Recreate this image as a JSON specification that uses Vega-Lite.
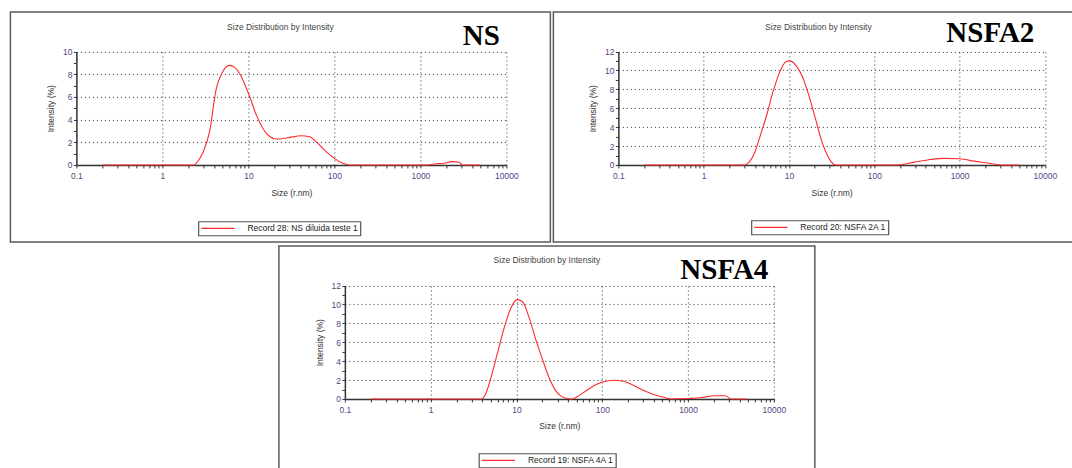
{
  "$schema": "https://vega.github.io/schema/vega-lite/v6.json",
  "padding": {"left": 9.25, "top": 10.95, "right": 0, "bottom": 0},
  "background": "white",
  "datasets": {
    "ns": [
      {"size": 0.2, "intensity": 0, "record": "Record 28: NS diluida teste 1"},
      {"size": 1, "intensity": 0, "record": "Record 28: NS diluida teste 1"},
      {"size": 2.33, "intensity": 0, "record": "Record 28: NS diluida teste 1"},
      {"size": 2.6, "intensity": 0.35, "record": "Record 28: NS diluida teste 1"},
      {"size": 2.99, "intensity": 1.17, "record": "Record 28: NS diluida teste 1"},
      {"size": 3.57, "intensity": 3.07, "record": "Record 28: NS diluida teste 1"},
      {"size": 4.19, "intensity": 6.58, "record": "Record 28: NS diluida teste 1"},
      {"size": 5.01, "intensity": 8.18, "record": "Record 28: NS diluida teste 1"},
      {"size": 5.97, "intensity": 8.77, "record": "Record 28: NS diluida teste 1"},
      {"size": 6.95, "intensity": 8.6, "record": "Record 28: NS diluida teste 1"},
      {"size": 8.31, "intensity": 7.75, "record": "Record 28: NS diluida teste 1"},
      {"size": 10.2, "intensity": 6.14, "record": "Record 28: NS diluida teste 1"},
      {"size": 12.4, "intensity": 4.39, "record": "Record 28: NS diluida teste 1"},
      {"size": 16.2, "intensity": 2.78, "record": "Record 28: NS diluida teste 1"},
      {"size": 21.2, "intensity": 2.28, "record": "Record 28: NS diluida teste 1"},
      {"size": 28.9, "intensity": 2.4, "record": "Record 28: NS diluida teste 1"},
      {"size": 41.2, "intensity": 2.57, "record": "Record 28: NS diluida teste 1"},
      {"size": 51.5, "intensity": 2.48, "record": "Record 28: NS diluida teste 1"},
      {"size": 64.3, "intensity": 1.9, "record": "Record 28: NS diluida teste 1"},
      {"size": 80.3, "intensity": 1.17, "record": "Record 28: NS diluida teste 1"},
      {"size": 100, "intensity": 0.58, "record": "Record 28: NS diluida teste 1"},
      {"size": 125, "intensity": 0.15, "record": "Record 28: NS diluida teste 1"},
      {"size": 150, "intensity": 0, "record": "Record 28: NS diluida teste 1"},
      {"size": 1200, "intensity": 0, "record": "Record 28: NS diluida teste 1"},
      {"size": 1510, "intensity": 0.1, "record": "Record 28: NS diluida teste 1"},
      {"size": 1890, "intensity": 0.15, "record": "Record 28: NS diluida teste 1"},
      {"size": 2360, "intensity": 0.29, "record": "Record 28: NS diluida teste 1"},
      {"size": 2820, "intensity": 0.23, "record": "Record 28: NS diluida teste 1"},
      {"size": 3090, "intensity": 0, "record": "Record 28: NS diluida teste 1"},
      {"size": 5000, "intensity": 0, "record": "Record 28: NS diluida teste 1"}
    ],
    "nsfa2": [
      {"size": 0.2, "intensity": 0, "record": "Record 20: NSFA 2A 1"},
      {"size": 1, "intensity": 0, "record": "Record 20: NSFA 2A 1"},
      {"size": 2.99, "intensity": 0, "record": "Record 20: NSFA 2A 1"},
      {"size": 3.41, "intensity": 0.3, "record": "Record 20: NSFA 2A 1"},
      {"size": 3.91, "intensity": 1.19, "record": "Record 20: NSFA 2A 1"},
      {"size": 4.69, "intensity": 3.31, "record": "Record 20: NSFA 2A 1"},
      {"size": 5.61, "intensity": 5.6, "record": "Record 20: NSFA 2A 1"},
      {"size": 6.42, "intensity": 7.56, "record": "Record 20: NSFA 2A 1"},
      {"size": 7.68, "intensity": 9.68, "record": "Record 20: NSFA 2A 1"},
      {"size": 9.2, "intensity": 10.9, "record": "Record 20: NSFA 2A 1"},
      {"size": 10.2, "intensity": 11.0, "record": "Record 20: NSFA 2A 1"},
      {"size": 12.0, "intensity": 10.56, "record": "Record 20: NSFA 2A 1"},
      {"size": 14.4, "intensity": 9.32, "record": "Record 20: NSFA 2A 1"},
      {"size": 17.3, "intensity": 7.2, "record": "Record 20: NSFA 2A 1"},
      {"size": 20.7, "intensity": 4.72, "record": "Record 20: NSFA 2A 1"},
      {"size": 23.7, "intensity": 2.78, "record": "Record 20: NSFA 2A 1"},
      {"size": 27.1, "intensity": 1.36, "record": "Record 20: NSFA 2A 1"},
      {"size": 30.9, "intensity": 0.4, "record": "Record 20: NSFA 2A 1"},
      {"size": 35.4, "intensity": 0, "record": "Record 20: NSFA 2A 1"},
      {"size": 187, "intensity": 0, "record": "Record 20: NSFA 2A 1"},
      {"size": 295, "intensity": 0.3, "record": "Record 20: NSFA 2A 1"},
      {"size": 461, "intensity": 0.58, "record": "Record 20: NSFA 2A 1"},
      {"size": 660, "intensity": 0.69, "record": "Record 20: NSFA 2A 1"},
      {"size": 990, "intensity": 0.66, "record": "Record 20: NSFA 2A 1"},
      {"size": 1480, "intensity": 0.4, "record": "Record 20: NSFA 2A 1"},
      {"size": 2130, "intensity": 0.2, "record": "Record 20: NSFA 2A 1"},
      {"size": 3030, "intensity": 0, "record": "Record 20: NSFA 2A 1"},
      {"size": 5000, "intensity": 0, "record": "Record 20: NSFA 2A 1"}
    ],
    "nsfa4": [
      {"size": 0.2, "intensity": 0, "record": "Record 19: NSFA 4A 1"},
      {"size": 1, "intensity": 0, "record": "Record 19: NSFA 4A 1"},
      {"size": 3.89, "intensity": 0, "record": "Record 19: NSFA 4A 1"},
      {"size": 4.37, "intensity": 0.53, "record": "Record 19: NSFA 4A 1"},
      {"size": 4.99, "intensity": 2.1, "record": "Record 19: NSFA 4A 1"},
      {"size": 5.97, "intensity": 4.77, "record": "Record 19: NSFA 4A 1"},
      {"size": 7.13, "intensity": 7.4, "record": "Record 19: NSFA 4A 1"},
      {"size": 8.53, "intensity": 9.53, "record": "Record 19: NSFA 4A 1"},
      {"size": 10.2, "intensity": 10.5, "record": "Record 19: NSFA 4A 1"},
      {"size": 11.7, "intensity": 10.3, "record": "Record 19: NSFA 4A 1"},
      {"size": 14, "intensity": 8.65, "record": "Record 19: NSFA 4A 1"},
      {"size": 16.7, "intensity": 6.35, "record": "Record 19: NSFA 4A 1"},
      {"size": 20, "intensity": 4.24, "record": "Record 19: NSFA 4A 1"},
      {"size": 23.9, "intensity": 2.29, "record": "Record 19: NSFA 4A 1"},
      {"size": 28.6, "intensity": 0.88, "record": "Record 19: NSFA 4A 1"},
      {"size": 33, "intensity": 0.3, "record": "Record 19: NSFA 4A 1"},
      {"size": 37.3, "intensity": 0.1, "record": "Record 19: NSFA 4A 1"},
      {"size": 44.7, "intensity": 0, "record": "Record 19: NSFA 4A 1"},
      {"size": 53.4, "intensity": 0.35, "record": "Record 19: NSFA 4A 1"},
      {"size": 66.8, "intensity": 0.95, "record": "Record 19: NSFA 4A 1"},
      {"size": 87.4, "intensity": 1.59, "record": "Record 19: NSFA 4A 1"},
      {"size": 110, "intensity": 1.87, "record": "Record 19: NSFA 4A 1"},
      {"size": 136, "intensity": 1.97, "record": "Record 19: NSFA 4A 1"},
      {"size": 171, "intensity": 1.9, "record": "Record 19: NSFA 4A 1"},
      {"size": 214, "intensity": 1.59, "record": "Record 19: NSFA 4A 1"},
      {"size": 279, "intensity": 1.06, "record": "Record 19: NSFA 4A 1"},
      {"size": 383, "intensity": 0.53, "record": "Record 19: NSFA 4A 1"},
      {"size": 523, "intensity": 0.17, "record": "Record 19: NSFA 4A 1"},
      {"size": 625, "intensity": 0, "record": "Record 19: NSFA 4A 1"},
      {"size": 1020, "intensity": 0.05, "record": "Record 19: NSFA 4A 1"},
      {"size": 1400, "intensity": 0.12, "record": "Record 19: NSFA 4A 1"},
      {"size": 2000, "intensity": 0.33, "record": "Record 19: NSFA 4A 1"},
      {"size": 2730, "intensity": 0.33, "record": "Record 19: NSFA 4A 1"},
      {"size": 3160, "intensity": 0, "record": "Record 19: NSFA 4A 1"},
      {"size": 5000, "intensity": 0, "record": "Record 19: NSFA 4A 1"}
    ]
  },
  "vconcat": [
    {
      "hconcat": [
        {
          "width": 540,
          "height": 230,
          "data": {"name": "ns"},
          "title": {"text": "Size Distribution by Intensity", "anchor": "middle", "frame": "group", "offset": -26.5, "baseline": "alphabetic", "fontSize": 8.5, "fontWeight": "normal", "color": "#444", "font": "Liberation Sans"},
          "layer": [
            {
              "mark": {"type": "line", "interpolate": "monotone", "strokeWidth": 1.1},
              "encoding": {
                "x": {"field": "size", "type": "quantitative",
                  "scale": {"type": "log", "domain": [0.1, 10000], "range": [66, 496], "nice": false},
                  "axis": {"orient": "bottom", "offset": -77, "values": [0.1,0.2,0.3,0.4,0.5,0.6,0.7,0.8,0.9,1,2,3,4,5,6,7,8,9,10,20,30,40,50,60,70,80,90,100,200,300,400,500,600,700,800,900,1000,2000,3000,4000,5000,6000,7000,8000,9000,10000], "format": "~g", "labelExpr": "indexof([0.1,1,10,100,1000,10000], datum.value) >= 0 ? datum.label : ''", "labelFlush": false, "labelOverlap": false, "labelPadding": 4, "tickSize": 3, "grid": false, "title": "Size (r.nm)", "titlePadding": 8}},
                "y": {"field": "intensity", "type": "quantitative",
                  "scale": {"domain": [0, 10], "range": [153, 39.5], "nice": false, "zero": false},
                  "axis": {"orient": "left", "offset": -66, "values": [0,1,2,3,4,5,6,7,8,9,10], "labelExpr": "datum.value % 2 == 0 ? datum.label : ''", "labelFlush": false, "labelOverlap": false, "labelPadding": 1.5, "tickSize": 3, "grid": true, "gridOpacity": {"condition": {"test": "datum.value % 2 == 0", "value": 1}, "value": 0}, "title": "Intensity (%)", "titlePadding": 6.5}},
                "color": {"field": "record", "type": "nominal", "scale": {"range": ["#ff2a2a"]},
                  "legend": {"title": null, "orient": "none", "legendX": 188, "legendY": 209.5, "symbolType": "stroke", "symbolSize": 1089, "symbolStrokeWidth": 1.2, "clipHeight": 10, "labelFont": "Liberation Sans", "labelFontSize": 8.5, "labelColor": "#222", "labelOffset": 12, "padding": 2, "strokeColor": "#555", "fillColor": "#ffffff"}}
              }
            },
            {
              "mark": {"type": "point", "opacity": 0},
              "encoding": {
                "x": {"field": "size", "type": "quantitative",
                  "scale": {"type": "log", "domain": [0.1, 10000], "range": [66, 496], "nice": false},
                  "axis": {"orient": "top", "offset": -39.5, "values": [1, 10, 100, 1000, 10000], "grid": true, "labels": false, "ticks": false, "domain": false, "title": "NS", "titleX": 489, "titleY": -6.5, "titleAlign": "right", "titleBaseline": "alphabetic", "titleAngle": 0, "titleFont": "Liberation Serif", "titleFontSize": 29, "titleFontWeight": "bold", "titleColor": "#000"}},
                "y": {"field": "intensity", "type": "quantitative",
                  "scale": {"domain": [0, 10], "range": [153, 39.5], "nice": false, "zero": false},
                  "axis": {"orient": "left", "offset": -66, "values": [0,1,2,3,4,5,6,7,8,9,10], "labelExpr": "datum.value % 2 == 0 ? datum.label : ''", "labelFlush": false, "labelOverlap": false, "labelPadding": 1.5, "tickSize": 3, "grid": true, "gridOpacity": {"condition": {"test": "datum.value % 2 == 0", "value": 1}, "value": 0}, "title": "Intensity (%)", "titlePadding": 6.5}}
              }
            }
          ],
          "resolve": {"axis": {"x": "independent"}}
        },
        {
          "width": 530,
          "height": 230,
          "data": {"name": "nsfa2"},
          "title": {"text": "Size Distribution by Intensity", "anchor": "middle", "frame": "group", "offset": -26.5, "baseline": "alphabetic", "fontSize": 8.5, "fontWeight": "normal", "color": "#444", "font": "Liberation Sans"},
          "layer": [
            {
              "mark": {"type": "line", "interpolate": "monotone", "strokeWidth": 1.1},
              "encoding": {
                "x": {"field": "size", "type": "quantitative",
                  "scale": {"type": "log", "domain": [0.1, 10000], "range": [65, 491.5], "nice": false},
                  "axis": {"orient": "bottom", "offset": -77, "values": [0.1,0.2,0.3,0.4,0.5,0.6,0.7,0.8,0.9,1,2,3,4,5,6,7,8,9,10,20,30,40,50,60,70,80,90,100,200,300,400,500,600,700,800,900,1000,2000,3000,4000,5000,6000,7000,8000,9000,10000], "format": "~g", "labelExpr": "indexof([0.1,1,10,100,1000,10000], datum.value) >= 0 ? datum.label : ''", "labelFlush": false, "labelOverlap": false, "labelPadding": 4, "tickSize": 3, "grid": false, "title": "Size (r.nm)", "titlePadding": 8}},
                "y": {"field": "intensity", "type": "quantitative",
                  "scale": {"domain": [0, 12], "range": [153, 39.5], "nice": false, "zero": false},
                  "axis": {"orient": "left", "offset": -65, "values": [0,1,2,3,4,5,6,7,8,9,10,11,12], "labelExpr": "datum.value % 2 == 0 ? datum.label : ''", "labelFlush": false, "labelOverlap": false, "labelPadding": 1.5, "tickSize": 3, "grid": true, "gridOpacity": {"condition": {"test": "datum.value % 2 == 0", "value": 1}, "value": 0}, "title": "Intensity (%)", "titlePadding": 6.5}},
                "color": {"field": "record", "type": "nominal", "scale": {"range": ["#ff2a2a"]},
                  "legend": {"title": null, "orient": "none", "legendX": 198, "legendY": 208.5, "symbolType": "stroke", "symbolSize": 1089, "symbolStrokeWidth": 1.2, "clipHeight": 10, "labelFont": "Liberation Sans", "labelFontSize": 8.5, "labelColor": "#222", "labelOffset": 12, "padding": 2, "strokeColor": "#555", "fillColor": "#ffffff"}}
              }
            },
            {
              "mark": {"type": "point", "opacity": 0},
              "encoding": {
                "x": {"field": "size", "type": "quantitative",
                  "scale": {"type": "log", "domain": [0.1, 10000], "range": [65, 491.5], "nice": false},
                  "axis": {"orient": "top", "offset": -39.5, "values": [1, 10, 100, 1000, 10000], "grid": true, "labels": false, "ticks": false, "domain": false, "title": "NSFA2", "titleX": 480.5, "titleY": -9.5, "titleAlign": "right", "titleBaseline": "alphabetic", "titleAngle": 0, "titleFont": "Liberation Serif", "titleFontSize": 29, "titleFontWeight": "bold", "titleColor": "#000"}},
                "y": {"field": "intensity", "type": "quantitative",
                  "scale": {"domain": [0, 12], "range": [153, 39.5], "nice": false, "zero": false},
                  "axis": {"orient": "left", "offset": -65, "values": [0,1,2,3,4,5,6,7,8,9,10,11,12], "labelExpr": "datum.value % 2 == 0 ? datum.label : ''", "labelFlush": false, "labelOverlap": false, "labelPadding": 1.5, "tickSize": 3, "grid": true, "gridOpacity": {"condition": {"test": "datum.value % 2 == 0", "value": 1}, "value": 0}, "title": "Intensity (%)", "titlePadding": 6.5}}
              }
            }
          ],
          "resolve": {"axis": {"x": "independent"}}
        }
      ],
      "spacing": 1,
      "resolve": {"scale": {"color": "independent"}, "legend": {"color": "independent"}}
    },
    {
      "width": 536,
      "height": 230,
      "data": {"name": "nsfa4"},
      "title": {"text": "Size Distribution by Intensity", "anchor": "middle", "frame": "group", "offset": -26, "baseline": "alphabetic", "fontSize": 8.5, "fontWeight": "normal", "color": "#444", "font": "Liberation Sans"},
      "layer": [
        {
          "mark": {"type": "line", "interpolate": "monotone", "strokeWidth": 1.1},
          "encoding": {
            "x": {"field": "size", "type": "quantitative",
              "scale": {"type": "log", "domain": [0.1, 10000], "range": [66, 495], "nice": false},
              "axis": {"orient": "bottom", "offset": -77, "values": [0.1,0.2,0.3,0.4,0.5,0.6,0.7,0.8,0.9,1,2,3,4,5,6,7,8,9,10,20,30,40,50,60,70,80,90,100,200,300,400,500,600,700,800,900,1000,2000,3000,4000,5000,6000,7000,8000,9000,10000], "format": "~g", "labelExpr": "indexof([0.1,1,10,100,1000,10000], datum.value) >= 0 ? datum.label : ''", "labelFlush": false, "labelOverlap": false, "labelPadding": 4, "tickSize": 3, "grid": false, "title": "Size (r.nm)", "titlePadding": 7}},
            "y": {"field": "intensity", "type": "quantitative",
              "scale": {"domain": [0, 12], "range": [153, 39.5], "nice": false, "zero": false},
              "axis": {"orient": "left", "offset": -66, "values": [0,1,2,3,4,5,6,7,8,9,10,11,12], "labelExpr": "datum.value % 2 == 0 ? datum.label : ''", "labelFlush": false, "labelOverlap": false, "labelPadding": 1.5, "tickSize": 3, "grid": true, "gridOpacity": {"condition": {"test": "datum.value % 2 == 0", "value": 1}, "value": 0}, "title": "Intensity (%)", "titlePadding": 6.5}},
            "color": {"field": "record", "type": "nominal", "scale": {"range": ["#ff2a2a"]},
              "legend": {"title": null, "orient": "none", "legendX": 200, "legendY": 207.5, "symbolType": "stroke", "symbolSize": 1089, "symbolStrokeWidth": 1.2, "clipHeight": 10, "labelFont": "Liberation Sans", "labelFontSize": 8.5, "labelColor": "#222", "labelOffset": 12, "padding": 2, "strokeColor": "#555", "fillColor": "#ffffff"}}
          }
        },
        {
          "mark": {"type": "point", "opacity": 0},
          "encoding": {
            "x": {"field": "size", "type": "quantitative",
              "scale": {"type": "log", "domain": [0.1, 10000], "range": [66, 495], "nice": false},
              "axis": {"orient": "top", "offset": -39.5, "values": [1, 10, 100, 1000, 10000], "grid": true, "labels": false, "ticks": false, "domain": false, "title": "NSFA4", "titleX": 489, "titleY": -7, "titleAlign": "right", "titleBaseline": "alphabetic", "titleAngle": 0, "titleFont": "Liberation Serif", "titleFontSize": 29, "titleFontWeight": "bold", "titleColor": "#000"}},
            "y": {"field": "intensity", "type": "quantitative",
              "scale": {"domain": [0, 12], "range": [153, 39.5], "nice": false, "zero": false},
              "axis": {"orient": "left", "offset": -66, "values": [0,1,2,3,4,5,6,7,8,9,10,11,12], "labelExpr": "datum.value % 2 == 0 ? datum.label : ''", "labelFlush": false, "labelOverlap": false, "labelPadding": 1.5, "tickSize": 3, "grid": true, "gridOpacity": {"condition": {"test": "datum.value % 2 == 0", "value": 1}, "value": 0}, "title": "Intensity (%)", "titlePadding": 6.5}}
          }
        }
      ],
      "resolve": {"axis": {"x": "independent"}}
    }
  ],
  "spacing": 2,
  "center": true,
  "resolve": {"scale": {"color": "independent"}, "legend": {"color": "independent"}},
  "config": {
    "view": {"stroke": "#5a5a5a", "strokeWidth": 1.5},
    "font": "Liberation Sans",
    "axis": {"labelFont": "Liberation Sans", "labelFontSize": 8.5, "labelColor": "#5b3f86", "titleFont": "Liberation Sans", "titleFontSize": 8.5, "titleFontWeight": "normal", "titleColor": "#333", "domainColor": "#333", "domainWidth": 1.5, "tickColor": "#333", "tickWidth": 1, "gridColor": "#333", "gridDash": [1, 3], "gridWidth": 1, "minExtent": 0},
    "legend": {"strokeWidth": 1.2}
  }
}
